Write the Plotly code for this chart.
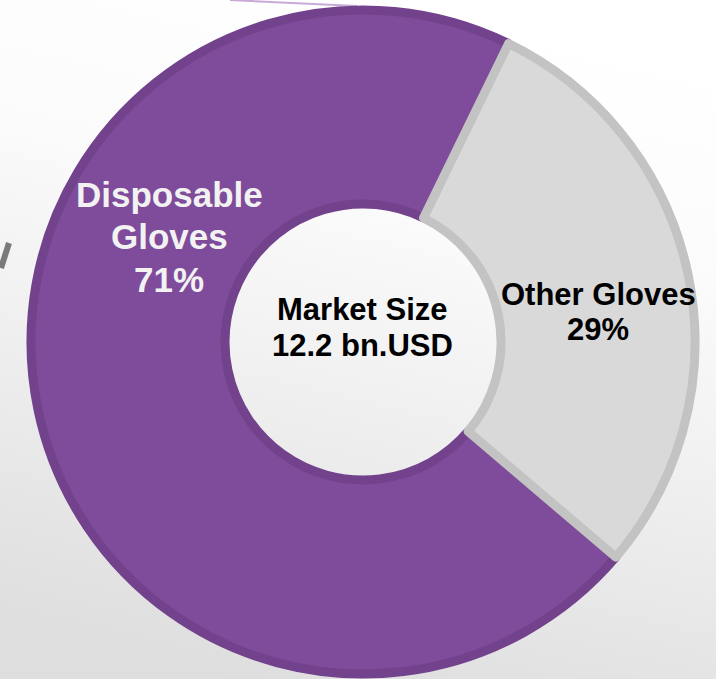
import base64
import plotly.graph_objects as go

# ---- data ----
categories = ["Disposable Gloves", "Other Gloves"]
shares = [71, 29]
center_title = "Market Size"
center_value = "12.2 bn.USD"

# ---- style ----
fill_colors = ["#7f4b9b", "#d9d9d9"]
line_colors = ["#73428c", "#c3c3c3"]
label_colors = ["#f2f2f2", "#000000"]
W, H = 716, 679
FONT = "Arial, 'Liberation Sans', sans-serif"

# pie geometry (pixels)
cx, cy, r = 363, 342, 332
hole_px = 138
other_start_deg = 26  # where the smaller slice begins, clockwise from 12 o'clock
total = sum(shares)
rotation = other_start_deg + 360 * shares[1] / total

fig = go.Figure()
fig.add_trace(go.Pie(
    labels=categories,
    values=shares,
    sort=False,
    direction="clockwise",
    rotation=rotation,
    hole=hole_px / r,
    marker=dict(colors=fill_colors, line=dict(color=line_colors, width=9)),
    textinfo="none",
    hoverinfo="label+percent",
    showlegend=False,
    domain=dict(x=[(cx - r) / W, (cx + r) / W],
                y=[(H - cy - r) / H, (H - cy + r) / H]),
))

# background gradient
svg = f'''<svg xmlns="http://www.w3.org/2000/svg" width="{W}" height="{H}" viewBox="0 0 {W} {H}">
<defs><linearGradient id="g" x1="0.6" y1="0" x2="0.35" y2="1">
<stop offset="0" stop-color="#ffffff"/><stop offset="0.3" stop-color="#fbfbfb"/>
<stop offset="0.6" stop-color="#efefef"/><stop offset="1" stop-color="#dedede"/></linearGradient></defs>
<rect width="{W}" height="{H}" fill="url(#g)"/>
<line x1="230" y1="0" x2="357" y2="6" stroke="#c9a9d8" stroke-width="2"/>
<line x1="9" y1="243" x2="1" y2="268" stroke="#7a7a7a" stroke-width="6"/>
</svg>'''
src = "data:image/svg+xml;base64," + base64.b64encode(svg.encode()).decode()

annotations = []


def add_line(text, px, py, size, color):
    annotations.append(dict(
        text=f"<b>{text}</b>", x=px / W, y=1 - py / H, xref="paper", yref="paper",
        xanchor="center", yanchor="middle", showarrow=False,
        font=dict(family=FONT, size=size, color=color)))


pcts = [f"{round(v / total * 100)}%" for v in shares]

# Disposable Gloves label
words0 = categories[0].split(" ")
lines0 = words0 + [pcts[0]]
for i, t in enumerate(lines0):
    add_line(t, 169, 194 + 42.5 * i, 35, label_colors[0])

# Other Gloves label
lines1 = [categories[1], pcts[1]]
for i, t in enumerate(lines1):
    add_line(t, 598, 294 + 35 * i, 31, label_colors[1])

# center
for i, t in enumerate([center_title, center_value]):
    add_line(t, 363, 310 + 35 * i, 31, "#000000")

fig.update_layout(
    width=W, height=H,
    margin=dict(l=0, r=0, t=0, b=0),
    paper_bgcolor="#f4f4f4",
    plot_bgcolor="rgba(0,0,0,0)",
    annotations=annotations,
    images=[dict(source=src, xref="paper", yref="paper", x=0, y=1,
                 sizex=1, sizey=1, sizing="stretch", layer="below",
                 xanchor="left", yanchor="top")],
)

fig.write_html("out.html")
